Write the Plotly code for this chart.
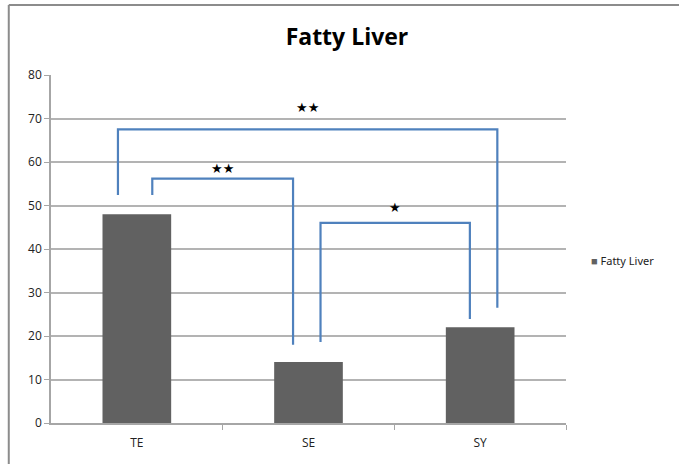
import plotly.graph_objects as go

categories = ["TE", "SE", "SY"]
values = [48, 14, 22]
series_name = "Fatty Liver"

# significance brackets
br_left = [0, 0, 1]
br_right = [2, 1, 2]
br_top = [67.5, 56.2, 46.0]
br_left_bottom = [52.4, 52.4, 18.6]
br_right_bottom = [26.5, 18.0, 23.9]
br_label = ["★★", "★★", "★"]
br_label_y = [72.6, 58.4, 49.6]
br_left_off = [-0.11, 0.09, 0.07]
br_right_off = [0.1, -0.09, -0.06]

bar_color = "#616161"

fig = go.Figure()
fig.add_trace(go.Bar(
    x=[0, 1, 2], y=values, name=series_name, width=0.4,
    marker=dict(color=bar_color, line=dict(width=0)), showlegend=False,
))

for i in range(len(br_left)):
    xl = br_left[i] + br_left_off[i]
    xr = br_right[i] + br_right_off[i]
    fig.add_trace(go.Scatter(
        x=[xl, xl, xr, xr],
        y=[br_left_bottom[i], br_top[i], br_top[i], br_right_bottom[i]],
        mode="lines", line=dict(color="#4f81bd", width=2.2),
        showlegend=False, hoverinfo="skip",
    ))
    fig.add_annotation(
        x=(xl + xr) / 2, y=br_label_y[i], text=br_label[i], showarrow=False,
        font=dict(size=13, color="black", family="DejaVu Sans"),
    )

# legend entry
fig.add_annotation(
    xref="paper", yref="paper", x=1.045, y=0.466, xanchor="left", yanchor="middle",
    text=f"<span style='color:{bar_color}'>■</span> {series_name}", showarrow=False,
    font=dict(size=11, color="#222", family="Noto Sans"),
)

fig.update_layout(
    width=679, height=464,
    margin=dict(l=51, r=113, t=75, b=41),
    paper_bgcolor="white", plot_bgcolor="white",
    title=dict(text="<b>Fatty Liver</b>", x=0.511, xanchor="center", y=0.92, yanchor="middle",
               font=dict(size=23, color="black", family="Open Sans")),
    font=dict(family="Open Sans", size=12, color="#222"),
    showlegend=False,
    xaxis=dict(
        range=[-0.5, 2.5], tickmode="array", tickvals=[0, 1, 2], ticktext=categories,
        showgrid=False, showline=True, linecolor="#a6a6a6", linewidth=1.5,
        ticks="", zeroline=False, ticklabelstandoff=8,
        tickfont=dict(size=12, color="#222"),
        minor=dict(tickmode="array", tickvals=[0.5, 1.5, 2.5], ticks="outside",
                   ticklen=5, tickcolor="#a6a6a6", showgrid=False),
    ),
    yaxis=dict(
        range=[0, 80], dtick=10, showgrid=True, gridcolor="#b3b3b3", gridwidth=1.5,
        showline=True, linecolor="#a6a6a6", linewidth=1.5, ticks="outside", ticklen=5,
        tickcolor="#a6a6a6", zeroline=False, tickfont=dict(size=12, color="#222"),
    ),
    shapes=[
        dict(type="line", xref="paper", yref="paper", x0=-0.082, x1=1.3, y0=1.201, y1=1.201,
             line=dict(color="#8c8c8c", width=2)),
        dict(type="line", xref="paper", yref="paper", x0=-0.082, x1=-0.082, y0=1.201, y1=-0.2,
             line=dict(color="#8c8c8c", width=2)),
    ],
)

fig.write_html("out.html", config={"displayModeBar": False},
               post_script="document.body.style.margin='0';")
